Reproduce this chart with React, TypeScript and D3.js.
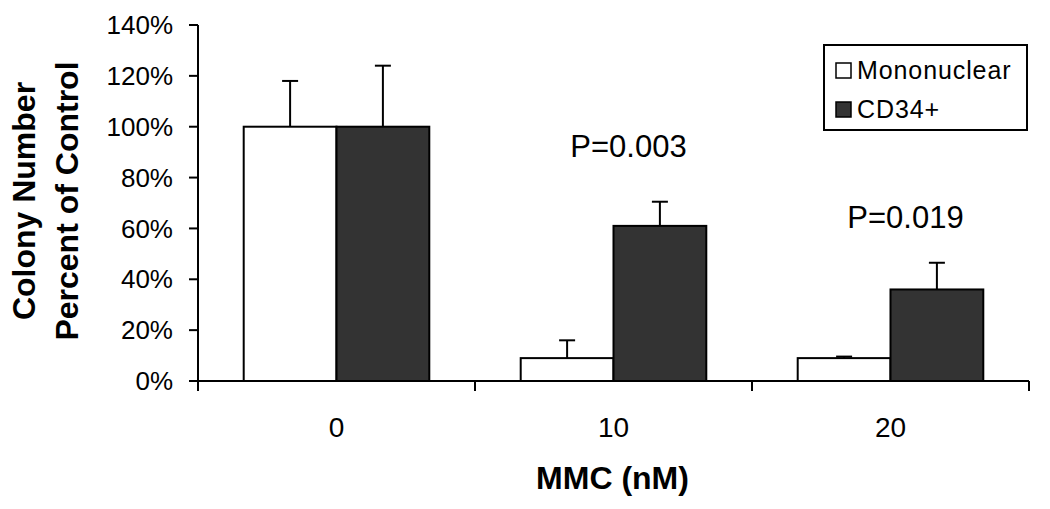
import * as d3 from "d3";

const categories = ["0", "10", "20"];
const seriesNames = ["Mononuclear", "CD34+"];
const mononuclear = [100, 9, 9];
const mononuclearErr = [18, 7, 0.6];
const cd34 = [100, 61, 36];
const cd34Err = [24, 9.5, 10.5];
const yTickValues = [0, 20, 40, 60, 80, 100, 120, 140];
const pLabels = [
  { category: "10", text: "P=0.003", at: 88 },
  { category: "20", text: "P=0.019", at: 60 },
];

const seriesFill = ["#ffffff", "#333333"];
const font = "'Liberation Sans', Arial, sans-serif";

export default function App() {
  const width = 1050;
  const height = 509;
  const plot = { left: 198, right: 1029, top: 25, bottom: 381 };

  const x = d3
    .scaleBand<string>()
    .domain(categories)
    .range([plot.left, plot.right])
    .paddingInner(0.33)
    .paddingOuter(0.165);
  const xInner = d3.scaleBand<number>().domain([0, 1]).range([0, x.bandwidth()]);
  const y = d3.scaleLinear().domain([0, 140]).range([plot.bottom, plot.top]);
  const step = x.step();

  const series = [
    { values: mononuclear, err: mononuclearErr },
    { values: cd34, err: cd34Err },
  ];

  // category boundaries for the x tick marks
  const boundaries = [plot.left, ...categories.map((c) => (x(c) ?? 0) + x.bandwidth() + (step - x.bandwidth()) / 2)];

  return (
    <svg
      width={width}
      height={height}
      style={{ position: "absolute", left: 0, top: 0, background: "#fff" }}
      fontFamily={font}
    >
      {/* bars */}
      {series.map((s, si) =>
        categories.map((c, ci) => {
          const bx = (x(c) ?? 0) + (xInner(si) ?? 0);
          const bw = xInner.bandwidth();
          const top = y(s.values[ci]);
          const errTop = y(s.values[ci] + s.err[ci]);
          const cx = bx + bw / 2;
          return (
            <g key={`${si}-${c}`}>
              <line x1={cx} x2={cx} y1={top} y2={errTop} stroke="#000" strokeWidth={2} />
              <line x1={cx - 8} x2={cx + 8} y1={errTop} y2={errTop} stroke="#000" strokeWidth={2} />
              <rect
                x={bx}
                y={top}
                width={bw}
                height={plot.bottom - top}
                fill={seriesFill[si]}
                stroke="#000"
                strokeWidth={2}
              />
            </g>
          );
        })
      )}

      {/* y axis */}
      <line x1={plot.left} x2={plot.left} y1={plot.top} y2={plot.bottom + 10} stroke="#000" strokeWidth={2} />
      {yTickValues.map((t) => (
        <g key={`y-${t}`}>
          <line x1={plot.left - 9} x2={plot.left} y1={y(t)} y2={y(t)} stroke="#000" strokeWidth={2} />
          <text
            x={173}
            y={y(t)}
            dy="0.35em"
            textAnchor="end"
            fontSize={26}
            fill="#000"
          >
            {`${t}%`}
          </text>
        </g>
      ))}

      {/* x axis */}
      <line x1={plot.left} x2={plot.right} y1={plot.bottom} y2={plot.bottom} stroke="#000" strokeWidth={2} />
      {boundaries.map((bx, i) => (
        <line key={`xt-${i}`} x1={bx} x2={bx} y1={plot.bottom} y2={plot.bottom + 10} stroke="#000" strokeWidth={2} />
      ))}
      {categories.map((c) => (
        <text
          key={`xl-${c}`}
          x={(x(c) ?? 0) + x.bandwidth() / 2}
          y={437}
          textAnchor="middle"
          fontSize={28}
          fill="#000"
        >
          {c}
        </text>
      ))}

      {/* p-value labels */}
      {pLabels.map((p) => (
        <text
          key={p.text}
          x={(x(p.category) ?? 0) + x.bandwidth() / 2 + 15}
          y={y(p.at)}
          textAnchor="middle"
          fontSize={31}
          fill="#000"
        >
          {p.text}
        </text>
      ))}

      {/* axis titles */}
      <text
        x={(plot.left + plot.right) / 2 - 1}
        y={489}
        textAnchor="middle"
        fontSize={32}
        fontWeight="bold"
        fill="#000"
      >
        MMC (nM)
      </text>
      <g transform="translate(35, 201) rotate(-90)">
        <text x={0} y={0} textAnchor="middle" fontSize={32} fontWeight="bold" fill="#000">
          Colony Number
        </text>
        <text x={0} y={43} textAnchor="middle" fontSize={32} fontWeight="bold" fill="#000">
          Percent of Control
        </text>
      </g>

      {/* legend */}
      <g transform="translate(824, 45)">
        <rect x={0} y={0} width={203} height={85} fill="#fff" stroke="#000" strokeWidth={2} />
        {seriesNames.map((name, i) => (
          <g key={name} transform={`translate(0, ${25 + i * 39})`}>
            <rect x={12} y={-7} width={15} height={15} fill={seriesFill[i]} stroke="#000" strokeWidth={1.5} />
            <text x={33} y={0} dy="0.35em" fontSize={25} letterSpacing={0.9} fill="#000">
              {name}
            </text>
          </g>
        ))}
      </g>
    </svg>
  );
}
